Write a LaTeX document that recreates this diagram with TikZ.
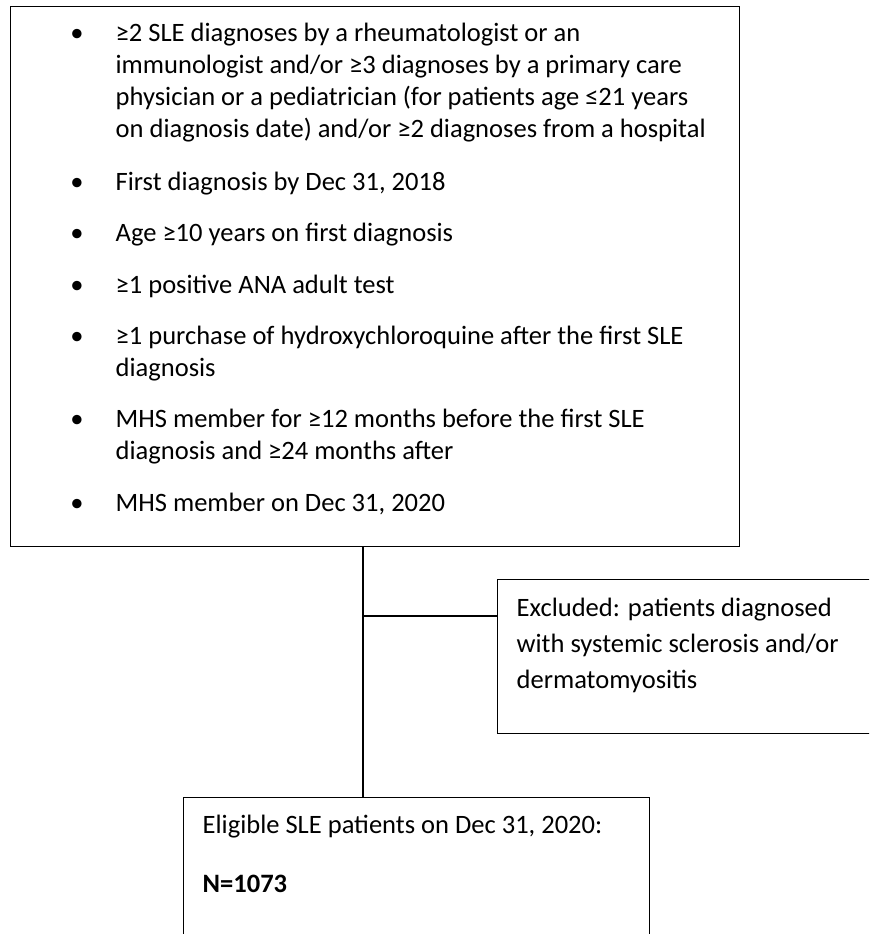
\documentclass[tikz,border=0pt]{standalone}
\usepackage{fontspec}
\setmainfont{Carlito}
\usepackage{tikz}
\usetikzlibrary{positioning}

\begin{document}
\begin{tikzpicture}[x=0.75pt,y=-0.75pt,line width=1pt,
        box/.style={draw,rectangle,anchor=north west,inner sep=0pt},
        txt/.style={anchor=base west,align=left,inner sep=0pt,
          font=\fontsize{19.9}{24}\selectfont},
        wide/.style={txt,font=\fontsize{19.9}{27}\selectfont},
        dot/.style={anchor=base,inner sep=0pt,font=\fontsize{19.9}{24}\selectfont}]

  \useasboundingbox (0,0) rectangle (869,934);
  \clip (0,0) rectangle (869,934);

  \node[box,minimum width=546.75pt,minimum height=405pt] (crit) at (10,6) {};
  \node[box,minimum width=287.25pt,minimum height=115.5pt] (excl) at (497,579) {};
  \node[box,minimum width=349.5pt,minimum height=111pt] (elig) at (183,797) {};

  \foreach \y in {42,191,241,293,344,427,511}
    \node[dot] at (77,\y) {•};

  \node[txt] (c_sle) at (115,138) {≥2 SLE diagnoses by a rheumatologist or an\\
    immunologist and/or ≥3 diagnoses by a primary care\\
    physician or a pediatrician (for patients age ≤21 years\\
    on diagnosis date) and/or ≥2 diagnoses from a hospital};
  \node[txt] (c_first) at (115,191) {First diagnosis by Dec 31, 2018};
  \node[txt] (c_age) at (115,241) {Age ≥10 years on first diagnosis};
  \node[txt] (c_ana) at (115,293) {≥1 positive ANA adult test};
  \node[txt] (c_hcq) at (115,376) {≥1 purchase of hydroxychloroquine after the first SLE\\
    diagnosis};
  \node[txt] (c_mhs) at (115,459) {MHS member for ≥12 months before the first SLE\\
    diagnosis and ≥24 months after};
  \node[txt] (c_dec) at (115,511) {MHS member on Dec 31, 2020};

  \node[wide] (t_excl) at (516,688) {Excluded: patients diagnosed\\
    with systemic sclerosis and/or\\
    dermatomyositis};
  \node[txt] (t_elig) at (202,892) {Eligible SLE patients on Dec 31, 2020:\\[20.25pt]
    \textbf{N=1073}};

  \coordinate (trunk) at (363,616);
  \draw (trunk |- crit.south) -- (trunk |- elig.north);
  \draw (trunk) -- (trunk -| excl.west);

\end{tikzpicture}
\end{document}
